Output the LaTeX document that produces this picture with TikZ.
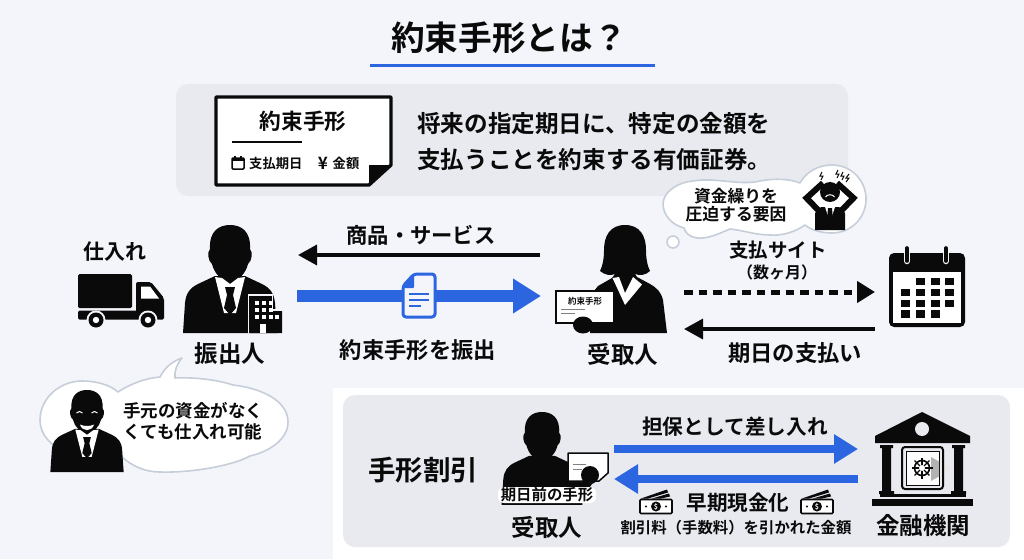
\documentclass[tikz,border=0pt]{standalone}
\usepackage{fontspec}
\setmainfont{Noto Sans CJK JP}[BoldFont={Noto Sans CJK JP Bold}]
\usetikzlibrary{arrows.meta}
\definecolor{pagebg}{HTML}{F3F5FB}
\definecolor{panelbg}{HTML}{E8EAF0}
\definecolor{noteblue}{HTML}{2B66E0}
\definecolor{cloudline}{HTML}{C6CEDA}
\definecolor{ink}{HTML}{0A0A0A}
\tikzset{
  x=1pt,y=-1pt,
  lbl/.style={inner sep=0pt,text=ink,align=center,font=\fontsize{#1pt}{#1pt}\selectfont\bfseries},
  panel/.style={fill=panelbg,rounded corners=12pt},
  cloud line/.style={fill=white,draw=cloudline,line width=1.6pt,line join=round},
  flow black/.style={draw=ink,line width=3.4pt,-{Triangle[length=19pt,width=20pt]}},
  flow dash/.style={draw=ink,line width=5pt,dash pattern=on 8.5pt off 6pt,-{Triangle[length=18pt,width=21pt]}},
  flow blue/.style={draw=noteblue,line width=#1},
  big head/.style={-{Triangle[length=28pt,width=33pt]}},
  mid head/.style={-{Triangle[length=24pt,width=28pt]}},
  pics/person/.style={code={
    % body
    \fill[ink] (-47,108) -- (-45,78) .. controls (-44,68) and (-40,63) .. (-32,59)
      -- (-15,51) -- (15,51) -- (32,59) .. controls (40,63) and (44,68) .. (45,78) -- (47,108) -- cycle;
    % head
    \fill[ink] (-20,24) .. controls (-21,6) and (-11,0) .. (0,0) .. controls (11,0) and (21,6) .. (20,24)
      .. controls (23,27) and (22,36) .. (18,39) .. controls (16,48) and (8,57) .. (0,57)
      .. controls (-8,57) and (-16,48) .. (-18,39) .. controls (-22,36) and (-23,27) .. (-20,24) -- cycle;
  }},
  pics/suit/.style={code={
    \fill[white] (-15,52) -- (-6,88) -- (6,88) -- (15,52) -- (8,53) -- (0,59) -- (-8,53) -- cycle;
    \fill[ink] (-5,62) -- (5,62) -- (3,70) -- (6,83) -- (0,90) -- (-6,83) -- (-3,70) -- cycle;
  }},
  pics/money/.style={code={
    \fill[ink] (1,-1) -- (27,-10) -- (28,-7) -- (8,-1) -- cycle;
    \fill[ink] (12,-1) -- (29,-6) -- (30,-3) -- (21,-1) -- cycle;
    \draw[ink,line width=1.6pt,fill=white,rounded corners=1pt] (0,0) rectangle (32,14);
    \fill[ink] (16,7) circle[radius=5];
    \fill[ink] (6,7) circle[radius=1.1] (26,7) circle[radius=1.1];
    \node[inner sep=0pt,text=white,font=\fontsize{7pt}{7pt}\selectfont\bfseries] at (16,7) {\$};
  }}
}
\begin{document}
\begin{tikzpicture}
\useasboundingbox (0,0) rectangle (1024,559);
\fill[pagebg] (0,0) rectangle (1024,559);

% heading
\node[lbl=33.7] (title) at (509,38) {約束手形とは？};
\coordinate (ruleL) at (370,66);
\coordinate (ruleR) at (655,66);
\draw[noteblue,line width=3pt] (ruleL) -- (ruleR);

% definition panel
\fill[panel] (176,84) rectangle (848,196);
\draw[ink,line width=3.4pt,fill=white,line join=round] (216,97) -- (391,97) -- (391,165) -- (369,185) -- (216,185) -- cycle;
\fill[ink] (369,185) -- (369,165) -- (391,165) -- cycle;
\node[lbl=21.7] (cardTitle) at (303,121) {約束手形};
\coordinate (cardRuleL) at (232,142);
\coordinate (cardRuleR) at (302,142);
\draw[ink,line width=2pt] (cardRuleL) -- (cardRuleR);
\draw[ink,line width=1.5pt,rounded corners=1pt] (232,158) rectangle (244,169);
\fill[ink] (232,158) rectangle (244,161);
\draw[ink,line width=1.2pt] (235,155.5) -- (235,158) (241,155.5) -- (241,158);
\node[lbl=13.3,anchor=west] (cardDate) at (249,163.5) {支払期日};
\node[lbl=17] (cardYen) at (323,163) {¥};
\node[lbl=13.3] (cardSum) at (346,163.5) {金額};
\node[lbl=23.6,anchor=west] (defA) at (417,124) {将来の指定期日に、特定の金額を};
\node[lbl=23.6,anchor=west] (defB) at (417,160) {支払うことを約束する有価証券。};

% truck
\node[lbl=21] (stock) at (115,252) {仕入れ};
\fill[ink,rounded corners=1.5pt] (78,274) rectangle (132,308);
\fill[ink,rounded corners=1.5pt] (78,310.5) rectangle (164,319.5);
\fill[ink,rounded corners=2pt] (136,282) -- (151,282) -- (164,298) -- (164,314) -- (136,314) -- cycle;
\fill[white] (141,286.5) -- (150,286.5) -- (159,298.5) -- (141,298.5) -- cycle;
\foreach \wx in {96,148}{
  \fill[pagebg] (\wx,320) circle[radius=9.5];
  \fill[ink] (\wx,320) circle[radius=7.5];
  \fill[white] (\wx,320) circle[radius=3.2];
}

% drawer with office block
\pic at (230,225) {person};
\pic at (230,225) {suit};
\fill[ink] (250,296) rectangle (272,333) (272,311) rectangle (282,333);
\draw[pagebg,line width=1.4pt] (248.5,333) -- (248.5,295) -- (272.5,295) -- (272.5,310) -- (283,310);
\foreach \wx in {255,262,269}\foreach \wy in {301,308,315}{\fill[white] (\wx,\wy) rectangle +(4,4);}
\fill[white] (275,315) rectangle +(4,4);
\fill[white] (260,324) rectangle (266,333);
\node[lbl=23.5] (drawer) at (230,354) {振出人};

% drawer's speech balloon
\path[cloud line,draw] (40,420) .. controls (40,398) and (60,381) .. (82,381)
  .. controls (97,381) and (110,385) .. (118,392)
  .. controls (130,384) and (146,378) .. (160,377)
  .. controls (165,367) and (173,361) .. (182,358)
  .. controls (177,364) and (174,371) .. (175,378)
  .. controls (195,377) and (218,380) .. (233,385)
  .. controls (260,388) and (288,400) .. (288,422)
  .. controls (288,440) and (268,452) .. (250,456)
  .. controls (232,466) and (190,473) .. (160,472)
  .. controls (145,472) and (132,466) .. (122,457)
  .. controls (85,465) and (40,450) .. (40,420) -- cycle;
\pic[xscale=.78,yscale=.76] at (87,390) {person};
\pic[xscale=.78,yscale=.76] at (87,390) {suit};
\draw[white,line width=1pt] (76.5,413) .. controls (78,411) and (81,411) .. (82.5,413);
\draw[white,line width=1pt] (91.5,413) .. controls (93,411) and (96,411) .. (97.5,413);
\fill[white] (80,424.5) .. controls (84,426.5) and (90,426.5) .. (94,424.5) .. controls (92,432) and (82,432) .. (80,424.5) -- cycle;
\node[lbl=17.5] (noCash) at (193,421) {手元の資金がなく\\[3.8pt]くても仕入れ可能};

% goods and note flows
\node[lbl=21.3] (goods) at (421,235) {商品・サービス};
\coordinate (goodsFrom) at (540,255);
\coordinate (goodsTo) at (298,255);
\draw[flow black] (goodsFrom) -- (goodsTo);
\coordinate (noteFrom) at (297,296);
\coordinate (noteTo) at (541,296);
\draw[flow blue=12pt,big head] (noteFrom) -- (noteTo);
\draw[noteblue,line width=3pt,fill=pagebg,line join=round,rounded corners=3pt] (403,286) -- (414,274) -- (435,274) -- (435,317) -- (403,317) -- cycle;
\fill[noteblue,rounded corners=1pt] (402,288) -- (414,288) -- (414,274) -- cycle;
\draw[noteblue,line width=2.6pt] (409,294) -- (429,294) (409,300) -- (429,300) (409,306) -- (421,306);
\node[lbl=22.3] (issue) at (418,350) {約束手形を振出};

% payee holding the note
\fill[ink] (625,225) .. controls (610,225) and (604,236) .. (604,250)
  .. controls (604,258) and (603,265) .. (600,271) .. controls (605,275) and (610,276) .. (615,274)
  -- (612,278) -- (598,286) -- (590,296) -- (590,333) -- (667,333)
  -- (663,300) .. controls (661,292) and (657,288) .. (650,284) -- (637,277)
  -- (635,274) .. controls (640,276) and (646,275) .. (650,271) .. controls (647,265) and (646,258) .. (646,250)
  .. controls (646,236) and (640,225) .. (625,225) -- cycle;
\fill[white] (612.5,278) -- (625,305) -- (642,284.5) -- (633,277) -- (625,293) -- (619,277) -- cycle;
\draw[ink,line width=1.3pt,fill=white] (556,291) rectangle (614,323);
\node[lbl=8.5] (heldNote) at (585,301) {約束手形};
\draw[gray,line width=1pt] (561,309) -- (585,309) (561,313.5) -- (575,313.5);
\fill[ink] (583,325) ellipse[x radius=10,y radius=8.5];
\node[lbl=23.5] (payee) at (623,354) {受取人};

% payee's thought balloon
\path[cloud line,draw] (663,204) .. controls (663,192) and (678,182) .. (693,181)
  .. controls (715,177) and (740,186) .. (760,181)
  .. controls (775,178) and (790,179) .. (800,183)
  .. controls (806,172) and (818,165) .. (832,165)
  .. controls (851,165) and (866,180) .. (866,199)
  .. controls (866,218) and (851,233) .. (832,233)
  .. controls (821,233) and (811,230) .. (805,225)
  .. controls (795,232) and (782,236) .. (770,235)
  .. controls (755,235) and (742,230) .. (730,229)
  .. controls (718,234) and (708,239) .. (697,238)
  .. controls (690,237) and (685,233) .. (684,228)
  .. controls (672,225) and (663,215) .. (663,204) -- cycle;
\draw[fill=white,draw=cloudline,line width=1.6pt] (673,242) circle[radius=6];
\node[lbl=16.8] (strain) at (736,205) {資金繰りを\\[1.5pt]圧迫する要因};
% worried figure
\fill[ink] (815,230) -- (815,213) -- (821,207) -- (839,207) -- (845,213) -- (845,230) -- cycle;
\draw[ink,line width=6pt,line join=miter] (823,183) -- (806.5,198) -- (820,212);
\draw[ink,line width=6pt,line join=miter] (837,183) -- (853.5,198) -- (840,212);
\fill[white] (825,207) -- (830,222) -- (835,207) -- cycle;
\fill[ink] (828,208) -- (832,208) -- (833,220) -- (830,224) -- (827,220) -- cycle;
\fill[ink] (830,192) circle[radius=10];
\draw[white,line width=1pt] (825.5,197) .. controls (827,194) and (833,194) .. (834.5,197);
\draw[ink,line width=1pt] (822,172) -- (820,176) -- (823,176) -- (821,180)
  (838,170) -- (836,174) -- (839,174) -- (837,178)
  (843,172) -- (841,176) -- (844,176) -- (842,180)
  (849,174) -- (846,178) -- (849,178) -- (846,182);

% payment term flows and calendar
\node[lbl=19.5] (term) at (778,250) {支払サイト};
\node[lbl=16] (months) at (777,272) {（数ヶ月）};
\coordinate (termFrom) at (684,292);
\coordinate (termTo) at (875,292);
\draw[flow dash] (termFrom) -- (termTo);
\coordinate (payFrom) at (875,329);
\coordinate (payTo) at (684,329);
\draw[flow black] (payFrom) -- (payTo);
\node[lbl=22.3] (paid) at (795,353) {期日の支払い};
\fill[ink,rounded corners=5pt] (889,253) rectangle (965,327);
\fill[white] (893,272) rectangle (961,323);
\foreach \rx in {907,946}{
  \draw[pagebg,line width=6.5pt,line cap=round] (\rx,248) -- (\rx,261);
  \draw[ink,line width=3.6pt,line cap=round] (\rx,248) -- (\rx,261);
}
\foreach \cx in {920,935,949}{\fill[ink] (\cx-4.5,277.5) rectangle +(9,7.5);}
\foreach \cy in {288.5,299.5}{\foreach \cx in {905,920,935,949}{\fill[ink] (\cx-4.5,\cy) rectangle +(9,7.5);}}
\foreach \cx in {905,920,935}{\fill[ink] (\cx-4.5,310) rectangle +(9,7.5);}

% discounting panel
\fill[white] (333,388) rectangle (1024,559);
\fill[panel] (343,395) rectangle (1010,547);
\node[lbl=27.5] (discount) at (423,470) {手形割引};
\pic[scale=.86] at (542,412) {person};
\draw[ink,line width=1.5pt,fill=white,line join=round] (568,453) -- (608,453) -- (608,473) -- (599,481) -- (568,481) -- cycle;
\draw[gray,line width=1pt] (573,464) -- (586,464) (573,469) -- (582,469);
\fill[ink] (590,475) circle[radius=9];
\fill[ink] (580,484) -- (590,470) -- (595,480) -- (580,500) -- cycle;
\fill[white,rounded corners=6pt] (498,487) rectangle (596,503);
\node[lbl=15.4] (beforeDue) at (547,495) {期日前の手形};
\node[lbl=23.5] (payee2) at (547,527) {受取人};

\node[lbl=20.7] (pledge) at (735,427) {担保として差し入れ};
\coordinate (pledgeFrom) at (614,449);
\coordinate (pledgeTo) at (858,449);
\draw[flow blue=8.5pt,mid head] (pledgeFrom) -- (pledgeTo);
\coordinate (cashFrom) at (858,479);
\coordinate (cashTo) at (614,479);
\draw[flow blue=8.5pt,mid head] (cashFrom) -- (cashTo);
\pic at (640,499.5) {money};
\pic at (801,499.5) {money};
\node[lbl=20.6] (cash) at (738,503) {早期現金化};
\node[lbl=15.4] (net) at (736,528) {割引料（手数料）を引かれた金額};

% bank
\fill[ink] (922,412) -- (970,436) -- (970,443) -- (875,443) -- (875,436) -- cycle;
\fill[panelbg] (922,429) circle[radius=7];
\fill[ink] (880,445) rectangle (893,448) (882,448) rectangle (891,491) (879,491) rectangle (894,494);
\fill[ink] (952,445) rectangle (965,448) (954,448) rectangle (963,491) (951,491) rectangle (966,494);
\fill[gray!18] (931,457) -- (952,469) -- (931,481) -- cycle;
\draw[ink,line width=2pt,fill=panelbg,rounded corners=3pt] (902,447) rectangle (943,489);
\draw[ink,line width=1pt,fill=white!85!panelbg] (906,451) rectangle (939,485);
\fill[gray!60] (931,457) -- (939,461.5) -- (939,476.5) -- (931,481) -- cycle;
\draw[ink,line width=1.6pt,fill=white] (922,468) circle[radius=7.5];
\foreach \ang in {0,45,...,315}{\draw[ink,line width=1.2pt] (922,468) -- ++(\ang:10.5);}
\fill[white] (922,468) circle[radius=3];
\fill[ink] (880,494) rectangle (966,497);
\fill[ink] (872,499) rectangle (973,506);
\node[lbl=23.5] (bank) at (923,526) {金融機関};
\end{tikzpicture}
\end{document}
